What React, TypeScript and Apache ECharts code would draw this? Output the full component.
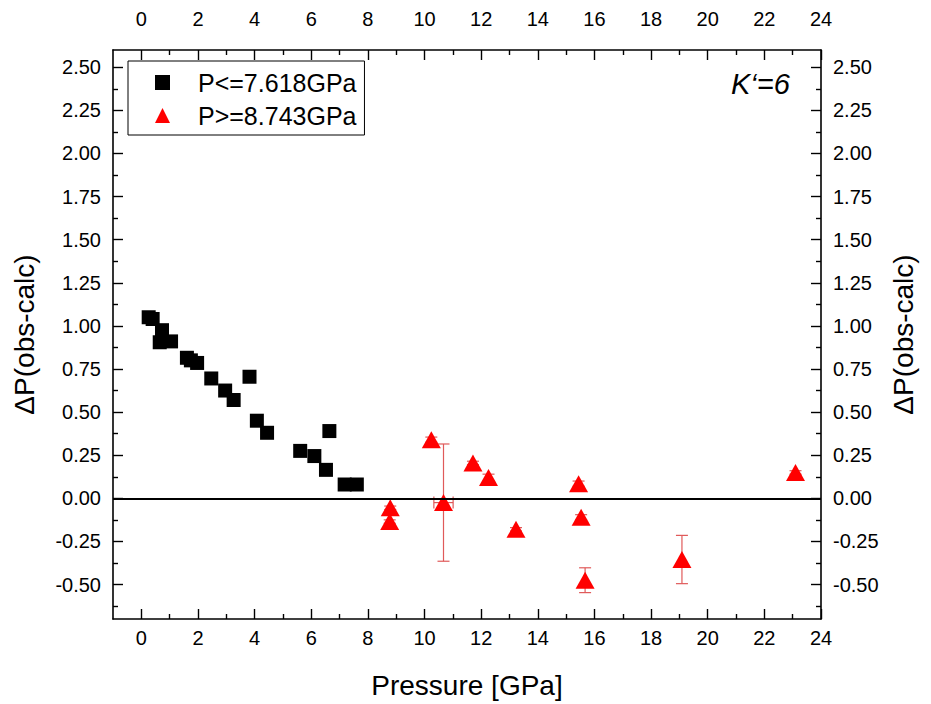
import React, { useEffect, useRef } from "react";
import * as echarts from "echarts";

// Black squares: P <= 7.618 GPa
const lowP = [0.26, 0.40, 0.73, 0.65, 1.05, 1.61, 1.75, 1.97, 2.47, 2.96, 3.26, 3.82, 4.08, 4.44, 5.61, 6.11, 6.64, 6.52, 7.18, 7.61];
const lowDP = [1.05, 1.04, 0.975, 0.905, 0.91, 0.815, 0.80, 0.785, 0.695, 0.625, 0.57, 0.705, 0.45, 0.38, 0.275, 0.245, 0.39, 0.165, 0.08, 0.08];

// Red triangles: P >= 8.743 GPa
const highP = [8.79, 8.77, 10.24, 10.67, 11.71, 12.26, 13.23, 15.44, 15.53, 15.67, 19.09, 23.10];
const highDP = [-0.055, -0.135, 0.34, -0.025, 0.205, 0.12, -0.18, 0.085, -0.11, -0.475, -0.355, 0.15];
const highErrP = [0, 0, 0, 0.34, 0, 0, 0, 0, 0, 0, 0, 0];
const highErrDP = [0.01, 0.01, 0.015, 0.34, 0.01, 0.02, 0.01, 0.015, 0.015, 0.072, 0.14, 0.01];

const xTickLabels = ["0", "2", "4", "6", "8", "10", "12", "14", "16", "18", "20", "22", "24"];
const yTickLabels = ["-0.50", "-0.25", "0.00", "0.25", "0.50", "0.75", "1.00", "1.25", "1.50", "1.75", "2.00", "2.25", "2.50"];

const seriesNames = ["P<=7.618GPa", "P>=8.743GPa"];

const X_MIN = -1;
const X_MAX = 24;
const Y_MIN = -0.7;
const Y_MAX = 2.6;

const FONT = "'Liberation Sans', Arial, sans-serif";

export default function App() {
  const ref = useRef<HTMLDivElement>(null);

  useEffect(() => {
    if (!ref.current) return;
    const chart = echarts.init(ref.current, undefined, { renderer: "svg" });

    const xMajor = xTickLabels.map(Number);
    const xMinor = xMajor.slice(0, -1).map((v, i) => (v + xMajor[i + 1]) / 2);
    const yMajor = yTickLabels.map(Number);
    const yMinor = [yMajor[0] - (yMajor[1] - yMajor[0]) / 2, ...yMajor.slice(0, -1).map((v, i) => (v + yMajor[i + 1]) / 2)];

    const labelStyle = { color: "#000", fontSize: 20, fontFamily: FONT };
    const lineStyle = { color: "#000", width: 1.6 };

    const mkX = (pos: "top" | "bottom", major: boolean) => ({
      type: "value",
      position: pos,
      min: X_MIN,
      max: X_MAX,
      gridIndex: 0,
      axisLine: { show: major, onZero: false, lineStyle },
      axisTick: {
        show: true,
        inside: true,
        length: major ? 10 : 5,
        customValues: major ? xMajor : xMinor,
        lineStyle: { color: "#000", width: 1.4 },
      },
      axisLabel: {
        show: major,
        customValues: xMajor,
        formatter: (v: number) => xTickLabels[xMajor.indexOf(v)] ?? String(v),
        margin: pos === "top" ? 21 : 9,
        ...labelStyle,
      },
      splitLine: { show: false },
      name: major && pos === "bottom" ? "Pressure [GPa]" : "",
      nameLocation: "middle",
      nameGap: 52,
      nameTextStyle: { color: "#000", fontSize: 28, fontFamily: FONT },
    });

    const mkY = (pos: "left" | "right", major: boolean) => ({
      type: "value",
      position: pos,
      min: Y_MIN,
      max: Y_MAX,
      gridIndex: 0,
      axisLine: { show: major, onZero: false, lineStyle },
      axisTick: {
        show: true,
        inside: true,
        length: major ? 10 : 5,
        customValues: major ? yMajor : yMinor,
        lineStyle: { color: "#000", width: 1.4 },
      },
      axisLabel: {
        show: major,
        customValues: yMajor,
        formatter: (v: number) => yTickLabels[yMajor.indexOf(v)] ?? v.toFixed(2),
        margin: 12,
        ...labelStyle,
      },
      splitLine: { show: false },
      name: major ? "ΔP(obs-calc)" : "",
      nameLocation: "middle",
      nameGap: pos === "left" ? 75 : 68,
      nameRotate: 90,
      nameTextStyle: { color: "#000", fontSize: 28, fontFamily: FONT },
    });

    const errData = highP.map((p, i) => [p, highDP[i], highErrP[i], highErrDP[i]]);

    chart.setOption({
      animation: false,
      backgroundColor: "#fff",
      grid: { left: 113, right: 110, top: 50, bottom: 85, containLabel: false },
      title: {
        text: "K‘=6",
        left: 726,
        top: 64,
        textStyle: { color: "#000", fontSize: 29, fontStyle: "italic", fontWeight: "normal", fontFamily: FONT },
      },
      legend: {
        data: [
          { name: seriesNames[0], icon: "rect" },
          { name: seriesNames[1], icon: "triangle" },
        ],
        orient: "vertical",
        left: 128,
        top: 61,
        itemWidth: 15,
        itemHeight: 15,
        itemGap: 8,
        padding: [9, 8, 7, 27],
        borderColor: "#000",
        borderWidth: 1,
        borderRadius: 0,
        textStyle: { color: "#000", fontSize: 25, fontFamily: FONT, lineHeight: 25, padding: [0, 0, 0, 23] },
      },
      xAxis: [mkX("bottom", true), mkX("bottom", false), mkX("top", true), mkX("top", false)],
      yAxis: [mkY("left", true), mkY("left", false), mkY("right", true), mkY("right", false)],
      series: [
        {
          name: "zero",
          type: "line",
          xAxisIndex: 0,
          yAxisIndex: 0,
          data: [],
          markLine: {
            silent: true,
            symbol: "none",
            label: { show: false },
            lineStyle: { color: "#000", width: 2, type: "solid" },
            data: [{ yAxis: 0 }],
          },
          z: 1,
        },
        {
          name: "errors",
          type: "custom",
          xAxisIndex: 0,
          yAxisIndex: 0,
          z: 2,
          data: errData,
          encode: { x: 0, y: 1 },
          renderItem: (params: any, api: any) => {
            const x = api.value(0);
            const y = api.value(1);
            const ex = api.value(2);
            const ey = api.value(3);
            const style = { stroke: "#e05a5a", lineWidth: 1.2, fill: "none" };
            const cap = 6;
            const children: any[] = [];
            if (ey > 0) {
              const t = api.coord([x, y + ey]);
              const b = api.coord([x, y - ey]);
              children.push({ type: "line", shape: { x1: t[0], y1: t[1], x2: b[0], y2: b[1] }, style });
              children.push({ type: "line", shape: { x1: t[0] - cap, y1: t[1], x2: t[0] + cap, y2: t[1] }, style });
              children.push({ type: "line", shape: { x1: b[0] - cap, y1: b[1], x2: b[0] + cap, y2: b[1] }, style });
            }
            if (ex > 0) {
              const l = api.coord([x - ex, y]);
              const r = api.coord([x + ex, y]);
              children.push({ type: "line", shape: { x1: l[0], y1: l[1], x2: r[0], y2: r[1] }, style });
              children.push({ type: "line", shape: { x1: l[0], y1: l[1] - cap, x2: l[0], y2: l[1] + cap }, style });
              children.push({ type: "line", shape: { x1: r[0], y1: r[1] - cap, x2: r[0], y2: r[1] + cap }, style });
            }
            return { type: "group", children };
          },
        },
        {
          name: seriesNames[0],
          type: "scatter",
          xAxisIndex: 0,
          yAxisIndex: 0,
          symbol: "rect",
          symbolSize: 14,
          itemStyle: { color: "#000", opacity: 1 },
          data: lowP.map((p, i) => [p, lowDP[i]]),
          z: 3,
        },
        {
          name: seriesNames[1],
          type: "scatter",
          xAxisIndex: 0,
          yAxisIndex: 0,
          symbol: "triangle",
          symbolSize: [19, 17],
          itemStyle: { color: "#ff0000", opacity: 1 },
          data: highP.map((p, i) => [p, highDP[i]]),
          z: 4,
        },
      ],
    });

    return () => chart.dispose();
  }, []);

  return <div ref={ref} style={{ width: 931, height: 704, position: "absolute", left: 0, top: 0, background: "#fff" }} />;
}
